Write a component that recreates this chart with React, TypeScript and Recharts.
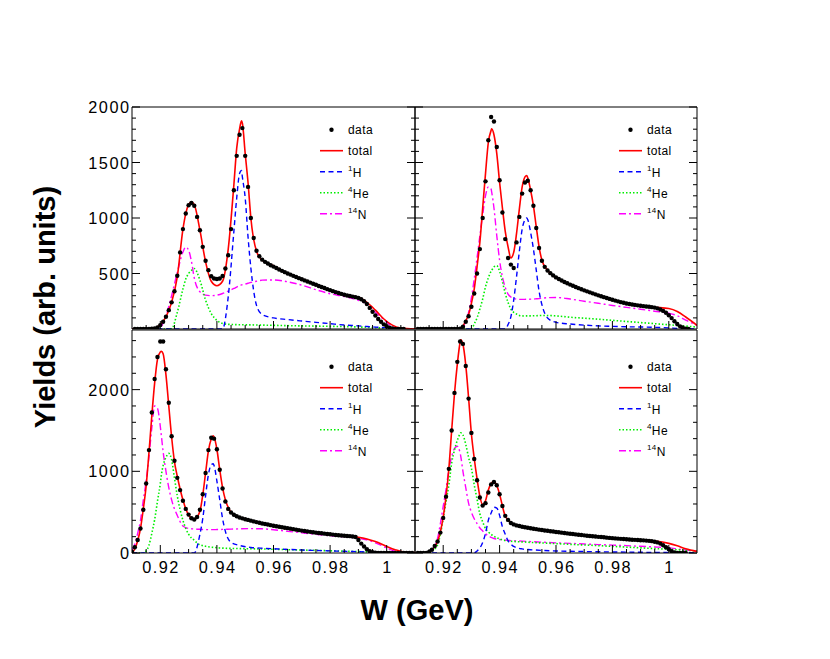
import React from 'react'
import { ComposedChart, Line, Scatter, XAxis, YAxis, ReferenceLine } from 'recharts'

const FONT = "'Liberation Sans', Arial, Helvetica, sans-serif"

// ROOT-style ticks: labelled majors, short minors
const W_MAJOR = [0.92, 0.94, 0.96, 0.98, 1]
const W_MINOR = [0.915, 0.925, 0.93, 0.935, 0.945, 0.95, 0.955, 0.965, 0.97, 0.975, 0.985, 0.99, 0.995, 1.005]
const TOP_Y_MAJOR = [500, 1000, 1500, 2000]
const TOP_Y_MINOR = [100, 200, 300, 400, 600, 700, 800, 900, 1100, 1200, 1300, 1400, 1600, 1700, 1800, 1900]
const BOT_Y_MAJOR = [0, 1000, 2000]
const BOT_Y_MINOR = [200, 400, 600, 800, 1200, 1400, 1600, 1800, 2200, 2400, 2600]
const W_DOMAIN = [0.91, 1.01]
const TOP_Y_MAX = 2000
const BOT_Y_MAX = 2730

// ---- top left ----
const TL_W = [0.910, 0.915, 0.918, 0.920, 0.922, 0.924, 0.926, 0.928, 0.929, 0.930, 0.931, 0.932, 0.934, 0.936, 0.938, 0.940, 0.942, 0.944, 0.946, 0.947, 0.948, 0.9487, 0.949, 0.950, 0.951, 0.952, 0.954, 0.956, 0.960, 0.965, 0.970, 0.975, 0.980, 0.985, 0.990, 0.993, 0.996, 0.999, 1.002, 1.005, 1.010]
const TL_TOTAL = [0, 0, 5, 40, 110, 240, 470, 900, 1040, 1120, 1143, 1120, 890, 605, 430, 390, 430, 720, 1300, 1630, 1800, 1875, 1855, 1580, 1320, 1000, 700, 620, 570, 500, 450, 400, 350, 305, 285, 240, 170, 90, 35, 8, 0]
const TL_H1 = [0, 0, 0, 0, 0, 0, 0, 0, 0, 0, 0, 0, 0, 0, 0, 0, 0, 290, 880, 1180, 1400, 1428, 1370, 1180, 830, 550, 213, 130, 100, 85, 72, 60, 48, 36, 28, 22, 17, 12, 8, 5, 2]
const TL_HE4 = [0, 0, 0, 0, 0, 2, 150, 360, 450, 500, 528, 545, 440, 260, 140, 78, 50, 42, 40, 39, 38, 38, 38, 38, 37, 37, 36, 35, 33, 30, 28, 26, 24, 22, 18, 15, 12, 8, 4, 2, 0]
const TL_N14 = [0, 0, 0, 15, 120, 300, 510, 693, 738, 710, 610, 460, 335, 305, 300, 305, 320, 342, 365, 378, 390, 397, 400, 405, 412, 420, 430, 440, 442, 425, 395, 354, 318, 292, 258, 225, 150, 85, 22, 3, 0]
const TL_DATA = [
  [0.911, 0], [0.912, 0], [0.913, 0], [0.914, 0], [0.915, 0], [0.916, 1], [0.917, 3], [0.918, 6], [0.919, 15], [0.920, 35],
  [0.921, 65], [0.922, 110], [0.923, 170], [0.924, 240], [0.925, 340], [0.926, 480], [0.927, 690], [0.928, 900], [0.929, 1040], [0.930, 1115],
  [0.931, 1135], [0.932, 1110], [0.933, 1010], [0.934, 890], [0.935, 740], [0.936, 615], [0.937, 530], [0.938, 475], [0.939, 455], [0.940, 450],
  [0.941, 455], [0.942, 478], [0.943, 545], [0.944, 665], [0.945, 900], [0.946, 1250], [0.947, 1560], [0.948, 1750], [0.949, 1810], [0.950, 1560],
  [0.951, 1280], [0.952, 1000], [0.953, 820], [0.954, 705], [0.955, 655], [0.956, 625], [0.957, 605], [0.958, 590], [0.959, 575], [0.960, 562],
  [0.961, 549], [0.962, 536], [0.963, 524], [0.964, 512], [0.965, 500], [0.966, 490], [0.967, 479], [0.968, 469], [0.969, 458], [0.970, 448],
  [0.971, 438], [0.972, 428], [0.973, 418], [0.974, 408], [0.975, 398], [0.976, 388], [0.977, 378], [0.978, 369], [0.979, 359], [0.980, 350],
  [0.981, 341], [0.982, 332], [0.983, 324], [0.984, 316], [0.985, 308], [0.986, 302], [0.987, 297], [0.988, 292], [0.989, 287], [0.990, 280],
  [0.991, 268], [0.992, 250], [0.993, 225], [0.994, 190], [0.995, 155], [0.996, 122], [0.997, 90], [0.998, 65], [0.999, 42], [1.000, 25],
  [1.001, 12], [1.002, 5], [1.003, 1], [1.004, 0], [1.005, 0], [1.006, 0],
]

// ---- top right ----
const TR_W = [0.910, 0.920, 0.924, 0.926, 0.928, 0.929, 0.930, 0.931, 0.932, 0.933, 0.934, 0.935, 0.936, 0.937, 0.9372, 0.938, 0.939, 0.940, 0.941, 0.942, 0.943, 0.944, 0.945, 0.946, 0.947, 0.948, 0.949, 0.9496, 0.950, 0.951, 0.952, 0.953, 0.954, 0.955, 0.957, 0.960, 0.965, 0.970, 0.975, 0.980, 0.985, 0.990, 0.995, 1.000, 1.003, 1.006, 1.010]
const TR_TOTAL = [0, 0, 0, 0, 75, 130, 230, 360, 560, 780, 1090, 1400, 1680, 1790, 1803, 1750, 1580, 1320, 1090, 880, 740, 640, 690, 860, 1080, 1280, 1370, 1383, 1360, 1250, 1110, 920, 740, 620, 530, 460, 400, 345, 300, 262, 228, 210, 196, 184, 158, 108, 33]
const TR_H1 = [0, 0, 0, 0, 0, 0, 0, 0, 0, 0, 0, 0, 0, 0, 0, 0, 0, 0, 0, 0, 40, 110, 260, 470, 700, 900, 985, 1000, 985, 870, 720, 530, 340, 220, 100, 60, 45, 35, 28, 24, 20, 18, 15, 10, 6, 3, 0]
const TR_HE4 = [0, 0, 0, 0, 0, 0, 2, 45, 100, 180, 270, 380, 460, 520, 528, 560, 570, 520, 425, 320, 240, 180, 150, 135, 122, 118, 117, 118, 118, 118, 119, 120, 121, 122, 122, 118, 106, 97, 88, 78, 68, 58, 48, 38, 32, 26, 18]
const TR_N14 = [0, 0, 0, 0, 60, 150, 280, 450, 640, 840, 1030, 1200, 1280, 1260, 1233, 1090, 840, 620, 470, 375, 315, 288, 276, 269, 267, 267, 267, 268, 268, 269, 270, 272, 274, 277, 282, 284, 270, 250, 232, 212, 195, 178, 160, 142, 120, 80, 33]
const TR_DATA = [
  [0.911, 0], [0.912, 0], [0.913, 0], [0.914, 0], [0.915, 0], [0.916, 0], [0.917, 0], [0.918, 0], [0.919, 0], [0.920, 0],
  [0.921, 0], [0.922, 0], [0.923, 0], [0.924, 0], [0.925, 0], [0.926, 2], [0.927, 20], [0.928, 65], [0.929, 115], [0.930, 200],
  [0.931, 320], [0.932, 500], [0.933, 720], [0.934, 1000], [0.935, 1330], [0.936, 1700], [0.937, 1910], [0.938, 1870], [0.939, 1640], [0.940, 1340],
  [0.941, 1050], [0.942, 810], [0.943, 640], [0.944, 580], [0.945, 550], [0.946, 780], [0.947, 1010], [0.948, 1220], [0.949, 1320], [0.950, 1335],
  [0.951, 1250], [0.952, 1110], [0.953, 910], [0.954, 730], [0.955, 615], [0.956, 560], [0.957, 527], [0.958, 503], [0.959, 483], [0.960, 465],
  [0.961, 450], [0.962, 437], [0.963, 424], [0.964, 412], [0.965, 400], [0.966, 389], [0.967, 378], [0.968, 368], [0.969, 358], [0.970, 348],
  [0.971, 339], [0.972, 330], [0.973, 321], [0.974, 312], [0.975, 303], [0.976, 295], [0.977, 287], [0.978, 279], [0.979, 271], [0.980, 263],
  [0.981, 256], [0.982, 249], [0.983, 242], [0.984, 236], [0.985, 230], [0.986, 225], [0.987, 221], [0.988, 217], [0.989, 213], [0.990, 209],
  [0.991, 206], [0.992, 203], [0.993, 200], [0.994, 197], [0.995, 193], [0.996, 186], [0.997, 176], [0.998, 163], [0.999, 146], [1.000, 124],
  [1.001, 98], [1.002, 70], [1.003, 45], [1.004, 24], [1.005, 10], [1.006, 3], [1.007, 0],
]

// ---- bottom left ----
const BL_W = [0.910, 0.911, 0.912, 0.913, 0.914, 0.915, 0.916, 0.917, 0.918, 0.919, 0.920, 0.9204, 0.921, 0.922, 0.923, 0.924, 0.925, 0.926, 0.928, 0.930, 0.932, 0.934, 0.935, 0.936, 0.937, 0.938, 0.9387, 0.939, 0.940, 0.941, 0.942, 0.943, 0.945, 0.948, 0.952, 0.956, 0.960, 0.965, 0.970, 0.975, 0.980, 0.985, 0.988, 0.990, 0.993, 0.996, 1.000, 1.003, 1.006, 1.010]
const BL_TOTAL = [10, 50, 150, 300, 540, 820, 1230, 1680, 2080, 2370, 2460, 2468, 2440, 2180, 1800, 1420, 1120, 940, 650, 465, 410, 510, 710, 980, 1250, 1395, 1436, 1420, 1270, 1020, 800, 650, 500, 430, 392, 358, 325, 295, 268, 245, 224, 210, 200, 192, 172, 140, 80, 40, 12, 4]
const BL_H1 = [0, 0, 0, 0, 0, 0, 0, 0, 0, 0, 0, 0, 0, 0, 0, 0, 0, 0, 0, 0, 0, 230, 420, 700, 960, 1080, 1092, 1070, 880, 653, 422, 265, 130, 92, 68, 58, 52, 44, 37, 31, 26, 21, 18, 16, 13, 10, 7, 5, 3, 2]
const BL_HE4 = [0, 0, 0, 0, 0, 25, 95, 240, 408, 635, 850, 960, 1070, 1170, 1220, 1140, 920, 700, 400, 230, 155, 100, 90, 82, 76, 72, 69, 68, 65, 62, 60, 58, 56, 54, 52, 49, 46, 41, 36, 32, 27, 22, 19, 17, 14, 11, 7, 5, 3, 2]
const BL_N14 = [40, 110, 240, 400, 650, 880, 1180, 1530, 1800, 1770, 1550, 1428, 1240, 1000, 800, 650, 540, 460, 330, 300, 294, 290, 288, 287, 286, 286, 286, 286, 287, 288, 289, 290, 292, 296, 298, 296, 285, 265, 248, 228, 212, 198, 190, 182, 160, 125, 62, 22, 5, 0]
const BL_DATA = [
  [0.910, 15], [0.911, 70], [0.912, 160], [0.913, 300], [0.914, 530], [0.915, 850], [0.916, 1260], [0.917, 1720], [0.918, 2130], [0.919, 2400],
  [0.920, 2590], [0.921, 2590], [0.922, 2250], [0.923, 1840], [0.924, 1430], [0.925, 1130], [0.926, 920], [0.927, 770], [0.928, 640], [0.929, 540],
  [0.930, 470], [0.931, 425], [0.932, 410], [0.933, 440], [0.934, 530], [0.935, 720], [0.936, 980], [0.937, 1260], [0.938, 1410], [0.939, 1400],
  [0.940, 1270], [0.941, 1020], [0.942, 790], [0.943, 630], [0.944, 540], [0.945, 495], [0.946, 468], [0.947, 450], [0.948, 435], [0.949, 424],
  [0.950, 414], [0.951, 405], [0.952, 396], [0.953, 387], [0.954, 378], [0.955, 370], [0.956, 362], [0.957, 355], [0.958, 348], [0.959, 341],
  [0.960, 334], [0.961, 328], [0.962, 322], [0.963, 316], [0.964, 310], [0.965, 304], [0.966, 298], [0.967, 292], [0.968, 286], [0.969, 280],
  [0.970, 274], [0.971, 269], [0.972, 264], [0.973, 259], [0.974, 254], [0.975, 249], [0.976, 245], [0.977, 241], [0.978, 237], [0.979, 233],
  [0.980, 229], [0.981, 225], [0.982, 221], [0.983, 218], [0.984, 215], [0.985, 212], [0.986, 209], [0.987, 206], [0.988, 202], [0.989, 195],
  [0.990, 160], [0.991, 115], [0.992, 80], [0.993, 45], [0.994, 22], [0.995, 10], [0.996, 4], [0.997, 1], [0.998, 0], [0.999, 0],
  [1.000, 0], [1.001, 0], [1.002, 0], [1.003, 0], [1.004, 0], [1.005, 0], [1.006, 0], [1.007, 0], [1.008, 0], [1.009, 0],
]

// ---- bottom right ----
const BR_W = [0.910, 0.914, 0.916, 0.918, 0.919, 0.920, 0.921, 0.922, 0.923, 0.924, 0.925, 0.926, 0.9262, 0.927, 0.928, 0.929, 0.930, 0.931, 0.932, 0.933, 0.934, 0.935, 0.936, 0.937, 0.938, 0.939, 0.940, 0.941, 0.942, 0.943, 0.944, 0.945, 0.948, 0.952, 0.956, 0.960, 0.965, 0.970, 0.975, 0.980, 0.985, 0.990, 0.995, 1.000, 1.003, 1.006, 1.010]
const BR_TOTAL = [0, 0, 40, 140, 260, 440, 690, 1030, 1500, 1950, 2310, 2580, 2611, 2555, 2300, 1900, 1460, 1160, 910, 694, 592, 640, 770, 850, 875, 826, 720, 575, 450, 410, 372, 355, 322, 298, 275, 255, 235, 215, 198, 182, 168, 157, 146, 118, 88, 52, 20]
const BR_H1 = [0, 0, 0, 0, 0, 0, 0, 0, 0, 0, 0, 0, 0, 0, 0, 0, 0, 2, 25, 61, 130, 240, 400, 490, 560, 550, 460, 320, 230, 150, 110, 80, 50, 38, 30, 25, 21, 18, 15, 13, 11, 9, 7, 5, 4, 3, 2]
const BR_HE4 = [0, 0, 25, 100, 230, 420, 630, 830, 1100, 1260, 1380, 1460, 1470, 1445, 1330, 1170, 1040, 835, 660, 480, 380, 300, 258, 228, 205, 186, 172, 160, 152, 147, 143, 141, 136, 128, 121, 115, 106, 98, 90, 81, 72, 63, 54, 46, 40, 34, 24]
const BR_N14 = [0, 0, 40, 180, 360, 570, 780, 1020, 1180, 1280, 1306, 1224, 1190, 1000, 800, 610, 500, 420, 360, 306, 270, 235, 210, 190, 178, 170, 165, 160, 157, 155, 152, 150, 145, 138, 131, 124, 118, 110, 103, 96, 90, 82, 74, 63, 50, 36, 20]
const BR_DATA = [
  [0.911, 0], [0.912, 0], [0.913, 0], [0.914, 0], [0.915, 12], [0.916, 40], [0.917, 85], [0.918, 140], [0.919, 250], [0.920, 430],
  [0.921, 690], [0.922, 1030], [0.923, 1500], [0.924, 1960], [0.925, 2340], [0.926, 2590], [0.927, 2560], [0.928, 2290], [0.929, 1890], [0.930, 1470],
  [0.931, 1150], [0.932, 890], [0.933, 680], [0.934, 580], [0.935, 610], [0.936, 740], [0.937, 840], [0.938, 870], [0.939, 830], [0.940, 720],
  [0.941, 575], [0.942, 455], [0.943, 405], [0.944, 368], [0.945, 350], [0.946, 338], [0.947, 330], [0.948, 322], [0.949, 315], [0.950, 309],
  [0.951, 303], [0.952, 297], [0.953, 292], [0.954, 286], [0.955, 281], [0.956, 276], [0.957, 272], [0.958, 267], [0.959, 263], [0.960, 258],
  [0.961, 254], [0.962, 249], [0.963, 245], [0.964, 240], [0.965, 236], [0.966, 232], [0.967, 228], [0.968, 224], [0.969, 220], [0.970, 216],
  [0.971, 212], [0.972, 209], [0.973, 205], [0.974, 202], [0.975, 198], [0.976, 195], [0.977, 192], [0.978, 188], [0.979, 185], [0.980, 182],
  [0.981, 179], [0.982, 176], [0.983, 173], [0.984, 171], [0.985, 168], [0.986, 166], [0.987, 163], [0.988, 161], [0.989, 159], [0.990, 157],
  [0.991, 155], [0.992, 152], [0.993, 149], [0.994, 145], [0.995, 138], [0.996, 130], [0.997, 115], [0.998, 95], [0.999, 70], [1.000, 45],
  [1.001, 22], [1.002, 8], [1.003, 2], [1.004, 0], [1.005, 0], [1.006, 0],
]

const STYLES = {
  total: { color: '#ff0000', dash: undefined as string | undefined, width: 1.6 },
  h1: { color: '#0000ff', dash: '5 3.5', width: 1.4 },
  he4: { color: '#00ee00', dash: '1.5 2', width: 1.6 },
  n14: { color: '#ff00ff', dash: '7 3 2 3', width: 1.4 },
}

const toPoints = (w: number[], y: number[]) => w.map((v, i) => ({ w: v, y: y[i] }))
const pairsToPoints = (p: number[][]) => p.map(([w, y]) => ({ w, y }))
const isMajor = (v: number, majors: number[]) => majors.some((m) => Math.abs(m - v) < 1e-9)
const byValue = (a: number, b: number) => a - b

const tickText = { fontFamily: FONT, fontSize: 16.3, letterSpacing: 1.5, fill: '#000' }

const xTick = (showLabel: boolean) => (props: any) => {
  const { x, y, payload } = props
  const major = isMajor(payload.value, W_MAJOR)
  return (
    <g>
      <line x1={x} x2={x} y1={y} y2={y - (major ? 8 : 4)} stroke="#000" />
      {showLabel && major && (
        <text x={x + 0.75} y={y + 20} textAnchor="middle" {...tickText}>
          {String(payload.value)}
        </text>
      )}
    </g>
  )
}

const yLeftTick = (majors: number[], showLabel: boolean) => (props: any) => {
  const { x, y, payload } = props
  const major = isMajor(payload.value, majors)
  return (
    <g>
      <line x1={x} x2={x + (major ? 8 : 4)} y1={y} y2={y} stroke="#000" />
      {showLabel && major && (
        <text x={x - 1.5} y={y + 6} textAnchor="end" {...tickText}>
          {String(payload.value)}
        </text>
      )}
    </g>
  )
}

const yRightTick = (majors: number[]) => (props: any) => {
  const { x, y, payload } = props
  const major = isMajor(payload.value, majors)
  return <line x1={x} x2={x - (major ? 8 : 4)} y1={y} y2={y} stroke="#000" />
}

type PanelProps = {
  x0: number
  y0: number
  w: number
  h: number
  yMax: number
  yMajor: number[]
  yMinor: number[]
  xLabels: boolean
  yLabels: boolean
  grid: number[]
  total: number[]
  h1: number[]
  he4: number[]
  n14: number[]
  data: number[][]
}

const PAD_L = 70
const PAD_R = 10
const PAD_T = 10
const PAD_B = 40

function Panel(p: PanelProps) {
  const xTicks = [...W_MAJOR, ...W_MINOR].sort(byValue)
  const yTicks = [...p.yMajor, ...p.yMinor].sort(byValue)
  const curves = [
    { key: 'n14', values: p.n14 },
    { key: 'he4', values: p.he4 },
    { key: 'h1', values: p.h1 },
    { key: 'total', values: p.total },
  ] as const
  return (
    <div style={{ position: 'absolute', left: p.x0 - PAD_L, top: p.y0 - PAD_T }}>
      <ComposedChart
        width={p.w + PAD_L + PAD_R}
        height={p.h + PAD_T + PAD_B}
        margin={{ top: PAD_T, right: 0, bottom: 0, left: 0 }}
      >
        <XAxis
          xAxisId="b"
          dataKey="w"
          type="number"
          domain={W_DOMAIN}
          allowDataOverflow
          ticks={xTicks}
          interval={0}
          height={PAD_B}
          tickLine={false}
          tickSize={0}
          tickMargin={0}
          axisLine={{ stroke: '#000' }}
          tick={xTick(p.xLabels)}
        />
        <YAxis
          yAxisId="l"
          dataKey="y"
          type="number"
          domain={[0, p.yMax]}
          allowDataOverflow
          ticks={yTicks}
          interval={0}
          width={PAD_L}
          tickLine={false}
          tickSize={0}
          tickMargin={0}
          axisLine={{ stroke: '#000' }}
          tick={yLeftTick(p.yMajor, p.yLabels)}
        />
        <YAxis
          yAxisId="r"
          orientation="right"
          dataKey="y"
          type="number"
          domain={[0, p.yMax]}
          allowDataOverflow
          ticks={yTicks}
          interval={0}
          width={PAD_R}
          tickLine={false}
          tickSize={0}
          tickMargin={0}
          axisLine={{ stroke: '#000' }}
          tick={yRightTick(p.yMajor)}
        />
        <ReferenceLine xAxisId="b" yAxisId="l" y={p.yMax} stroke="#000" strokeWidth={1} />
        <Scatter
          xAxisId="b"
          yAxisId="r"
          dataKey="y"
          data={pairsToPoints(p.data)}
          isAnimationActive={false}
          shape={(s: any) => <circle cx={s.cx} cy={s.cy} r={2.2} fill="#000" />}
        />
        {curves.map((c) => {
          const st = STYLES[c.key]
          return (
            <Line
              key={c.key}
              xAxisId="b"
              yAxisId="l"
              type="monotone"
              dataKey="y"
              data={toPoints(p.grid, c.values)}
              stroke={st.color}
              strokeWidth={st.width}
              strokeDasharray={st.dash}
              dot={false}
              activeDot={false}
              isAnimationActive={false}
            />
          )
        })}
      </ComposedChart>
    </div>
  )
}

function LegendBox({ x, y }: { x: number; y: number }) {
  const step = 21
  const tx = x + 28
  const txt = { fontFamily: FONT, fontSize: 12, letterSpacing: 0.4, fill: '#000' }
  const sup = (n: string, rest: string) => (
    <>
      <tspan fontSize={8}>{n}</tspan>
      <tspan>{rest}</tspan>
    </>
  )
  const rows: { key: keyof typeof STYLES | 'data'; label: React.ReactNode; superLabel?: [string, string] }[] = [
    { key: 'data', label: 'data' },
    { key: 'total', label: 'total' },
    { key: 'h1', label: null, superLabel: ['1', 'H'] },
    { key: 'he4', label: null, superLabel: ['4', 'He'] },
    { key: 'n14', label: null, superLabel: ['14', 'N'] },
  ]
  return (
    <g>
      {rows.map((r, i) => {
        const cy = y + i * step
        return (
          <g key={r.key}>
            {r.key === 'data' ? (
              <circle cx={x + 11.5} cy={cy} r={2.2} fill="#000" />
            ) : (
              <line
                x1={x}
                x2={x + 23}
                y1={cy}
                y2={cy}
                stroke={STYLES[r.key].color}
                strokeWidth={STYLES[r.key].width}
                strokeDasharray={STYLES[r.key].dash}
              />
            )}
            {r.superLabel ? (
              <text x={tx} y={cy + 5} {...txt}>
                <tspan fontSize={8} dy={-5.5}>{r.superLabel[0]}</tspan>
                <tspan dy={5.5}>{r.superLabel[1]}</tspan>
              </text>
            ) : (
              <text x={tx} y={cy + 4.5} {...txt}>
                {r.label}
              </text>
            )}
          </g>
        )
      })}
    </g>
  )
}

export default function App() {
  const topRow = { y0: 107, h: 222, yMax: TOP_Y_MAX, yMajor: TOP_Y_MAJOR, yMinor: TOP_Y_MINOR, xLabels: false }
  const botRow = { y0: 330, h: 223, yMax: BOT_Y_MAX, yMajor: BOT_Y_MAJOR, yMinor: BOT_Y_MINOR, xLabels: true }
  return (
    <div style={{ position: 'absolute', left: 0, top: 0, width: 830, height: 659, background: '#fff', fontFamily: FONT }}>
      <Panel {...topRow} x0={132} w={283} yLabels grid={TL_W} total={TL_TOTAL} h1={TL_H1} he4={TL_HE4} n14={TL_N14} data={TL_DATA} />
      <Panel {...topRow} x0={415} w={282} yLabels={false} grid={TR_W} total={TR_TOTAL} h1={TR_H1} he4={TR_HE4} n14={TR_N14} data={TR_DATA} />
      <Panel {...botRow} x0={132} w={283} yLabels grid={BL_W} total={BL_TOTAL} h1={BL_H1} he4={BL_HE4} n14={BL_N14} data={BL_DATA} />
      <Panel {...botRow} x0={415} w={282} yLabels={false} grid={BR_W} total={BR_TOTAL} h1={BR_H1} he4={BR_HE4} n14={BR_N14} data={BR_DATA} />
      <svg width={830} height={659} style={{ position: 'absolute', left: 0, top: 0, pointerEvents: 'none' }}>
        <LegendBox x={320} y={129.7} />
        <LegendBox x={619} y={129.7} />
        <LegendBox x={320} y={366.7} />
        <LegendBox x={619} y={366.7} />
        <text x={55} y={307} transform="rotate(-90 55 307)" textAnchor="middle" fontFamily={FONT} fontWeight="bold" fontSize={29} fill="#000">
          Yields (arb. units)
        </text>
        <text x={417} y={620} textAnchor="middle" fontFamily={FONT} fontWeight="bold" fontSize={29} fill="#000">
          W (GeV)
        </text>
      </svg>
    </div>
  )
}
